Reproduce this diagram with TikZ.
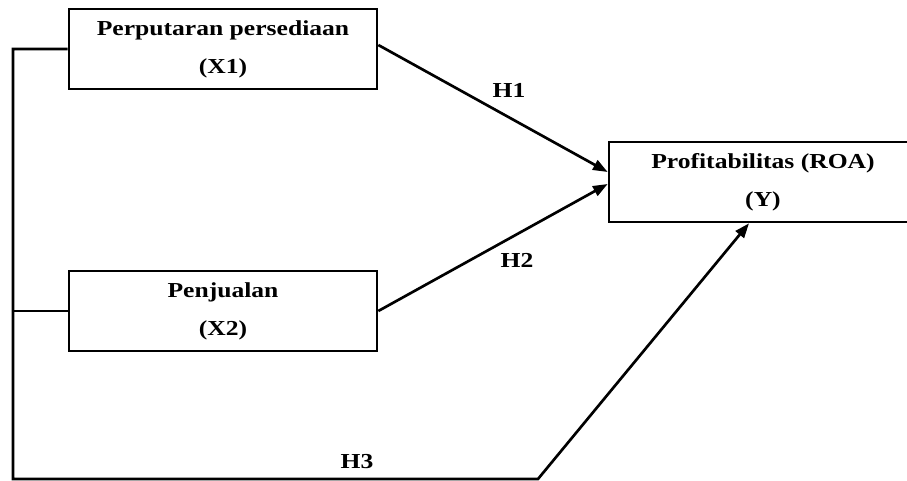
\documentclass[tikz,border=0pt]{standalone}
\usepackage{fontspec}
\newfontfamily\figfont[FakeStretch=1.2]{Liberation Serif}
\usetikzlibrary{arrows.meta}
\begin{document}
\begin{tikzpicture}[x=0.75pt,y=-0.75pt,line width=2pt,
        >={Triangle[length=11pt,width=8pt]},
        varbox/.style={draw,minimum width=231pt,minimum height=60pt,align=center,inner sep=0pt,
            font=\figfont\bfseries\fontsize{16}{28.5}\selectfont},
        hlabel/.style={font=\figfont\bfseries\fontsize{16}{18}\selectfont}]
        \useasboundingbox (0,0) rectangle (907,481);
        % variabel
        \node[varbox] (x1) at (223,49) {Perputaran persediaan\\(X1)};
        \node[varbox] (x2) at (223,311) {Penjualan\\(X2)};
        \node[varbox] (y) at (763,182) {Profitabilitas (ROA)\\(Y)};
        % hipotesis
        \node[hlabel] (h1) at (509,90) {H1};
        \node[hlabel] (h2) at (517,260) {H2};
        \node[hlabel] (h3) at (357,462) {H3};
        \coordinate (bustop) at (13,49);
        \coordinate (busmid) at (13,311);
        \coordinate (busbot) at (13,479);
        \coordinate (bend) at (538,479);
        \draw[->] ([yshift=3pt]x1.east) -- ([yshift=7.5pt]y.west); % H1
        \draw[->] (x2.east) -- ([yshift=-1.5pt]y.west); % H2
        \draw[->] (x1.west) -- (bustop) -- (busbot) -- (bend) -- ([xshift=-10.5pt]y.south); % H3
        \draw (x2.west) -- (busmid);
    \end{tikzpicture}
\end{document}
